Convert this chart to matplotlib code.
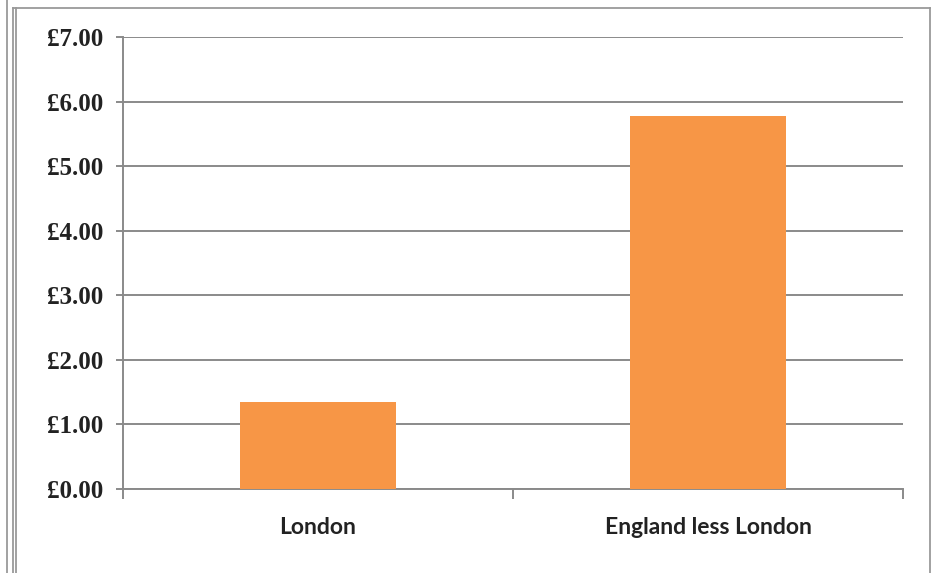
import matplotlib.pyplot as plt
from matplotlib.lines import Line2D
from matplotlib.ticker import FuncFormatter, MultipleLocator

regions = ["London", "England less London"]
amounts = [1.35, 5.77]

plt.rcParams['font.family'] = ['Lato', 'DejaVu Sans']

W, H = 932, 573
fig = plt.figure(figsize=(W / 100, H / 100), dpi=100)
ax = fig.add_axes([123 / W, 1 - 489 / H, 780 / W, 452 / H])

grid_col = "#8a8a8a"
bar_col = "#f79646"

x = range(len(regions))
ax.bar(x, amounts, width=0.4, color=bar_col, zorder=3)

ax.set_xlim(-0.5, len(regions) - 0.5)
ax.set_ylim(0, 7)
ax.yaxis.set_major_locator(MultipleLocator(1))
ax.yaxis.set_major_formatter(FuncFormatter(lambda v, p: f"£{v:.2f}"))
ax.grid(axis="y", color=grid_col, linewidth=1.4, zorder=0)
ax.set_axisbelow(True)

for side in ("top", "right"):
    ax.spines[side].set_visible(False)
ax.spines["left"].set_color(grid_col)
ax.spines["left"].set_linewidth(1.4)
ax.spines["bottom"].set_color(grid_col)
ax.spines["bottom"].set_linewidth(1.4)

# category labels centred, tick marks on the category boundaries
ax.set_xticks(list(x))
ax.set_xticklabels(regions, fontsize=16.5, fontweight="bold", color="#222222")
ax.tick_params(axis="x", length=0, pad=20)
ax.set_xticks([-0.5, 0.5, 1.5], minor=True)
ax.tick_params(axis="x", which="minor", length=7, width=1.4, color=grid_col, direction="out")
ax.tick_params(axis="y", length=5, width=1.4, color=grid_col, pad=9,
               labelsize=18, labelcolor="#222222")
for lbl in ax.get_yticklabels():
    lbl.set_fontweight("bold")
    lbl.set_family(["Liberation Serif", "DejaVu Serif"])

# chart frame
def frame_line(xs, ys, lw=1.3):
    fig.add_artist(Line2D([v / W for v in xs], [1 - v / H for v in ys],
                          color="#9a9a9a", linewidth=lw, transform=fig.transFigure))

frame_line([7, 7], [0, H])
frame_line([13, 13], [8, H])
frame_line([16, 16], [8, H])
frame_line([13, 930], [8, 8])
frame_line([930, 930], [8, H])

fig.savefig("out.png", dpi=100)
